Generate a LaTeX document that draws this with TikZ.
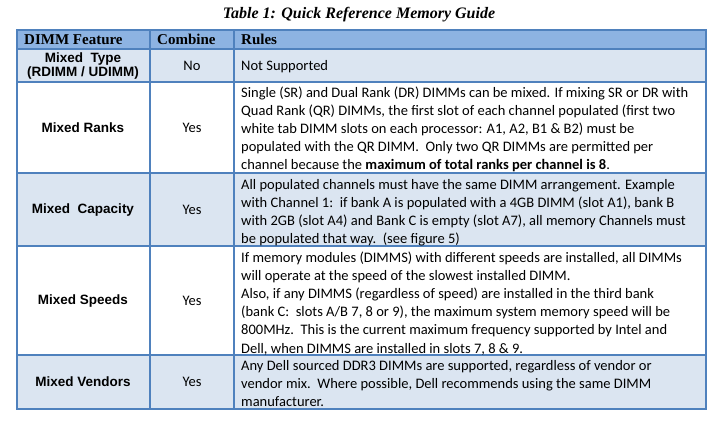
\documentclass[tikz,border=0pt]{standalone}
\usepackage{fontspec}
\setmainfont{Carlito}
\newfontfamily\hdfont{Liberation Serif}
\newfontfamily\lblfont{Liberation Sans}
\definecolor{hdblue}{RGB}{141,179,226}
\definecolor{rowblue}{RGB}{219,229,241}
\definecolor{gridblue}{RGB}{79,129,189}
\tikzset{
  rule/.style={anchor=base west, inner sep=0pt, font=\fontsize{14.5}{16}\selectfont},
  feat/.style={align=center, inner sep=0pt, font=\lblfont\bfseries\fontsize{13.5}{14}\selectfont},
  comb/.style={inner sep=0pt, font=\fontsize{14.5}{16}\selectfont},
  head/.style={anchor=base west, inner sep=0pt, font=\hdfont\bfseries\fontsize{15}{16}\selectfont}
}
\begin{document}
\begin{tikzpicture}[x=1pt,y=-1pt]
  \useasboundingbox (0,0) rectangle (713,430);
  % title
  \node[font=\hdfont\bfseries\itshape\fontsize{16}{18}\selectfont] (title) at (359,15) {Table 1: Quick Reference Memory Guide};
  % shaded rows
  \fill[hdblue] (17,30) rectangle (706,49);
  \fill[rowblue] (17,49) rectangle (706,82);
  \fill[rowblue] (17,173) rectangle (706,246);
  \fill[rowblue] (17,355) rectangle (706,409);
  % grid
  \draw[gridblue, line width=1.2pt] (17,30) rectangle (706,409);
  \foreach \y in {49,82,173,246,355}
    \draw[gridblue, line width=1.2pt] (17,\y) -- (706,\y);
  \foreach \x in {150,234}
    \draw[gridblue, line width=1.2pt] (\x,30) -- (\x,409);
  % header
  \node[head] (hfeat) at (24,45) {DIMM Feature};
  \node[head] (hcomb) at (157,45) {Combine};
  \node[head] (hrule) at (241,45) {Rules};
  % features and combine column
  \node[feat] (f1) at (83,66) {Mixed\ \ Type\\(RDIMM / UDIMM)};
  \node[feat] (f2) at (83,128) {Mixed Ranks};
  \node[feat] (f3) at (83,210) {Mixed\ \ Capacity};
  \node[feat] (f4) at (83,301) {Mixed Speeds};
  \node[feat] (f5) at (83,382) {Mixed Vendors};
  \foreach \y/\t [count=\i] in {66/No,128/Yes,210/Yes,301/Yes,382/Yes}
    \node[comb] (c\i) at (192,\y) {\t};
  % rules text
  \node[rule] (r1) at (241,71) {Not Supported};
  \foreach \t [count=\i] in {
    Single (SR) and Dual Rank (DR) DIMMs can be mixed. If mixing SR or DR with,
    Quad Rank (QR) DIMMs{,} the first slot of each channel populated (first two,
    white tab DIMM slots on each processor: A1{,} A2{,} B1 \& B2) must be,
    populated with the QR DIMM.\ \ Only two QR DIMMs are permitted per,
    channel because the \textbf{maximum of total ranks per channel is 8}.}
    \node[rule] (r2l\i) at (241,79+18.2*\i) {\t};
  \foreach \t [count=\i] in {
    All populated channels must have the same DIMM arrangement. Example,
    with Channel 1:\ \ if bank A is populated with a 4GB DIMM (slot A1){,} bank B,
    with 2GB (slot A4) and Bank C is empty (slot A7){,} all memory Channels must,
    be populated that way.\ \ (see figure 5)}
    \node[rule] (r3l\i) at (241,171+18.2*\i) {\t};
  \foreach \t [count=\i] in {
    If memory modules (DIMMS) with different speeds are installed{,} all DIMMs,
    will operate at the speed of the slowest installed DIMM.,
    Also{,} if any DIMMS (regardless of speed) are installed in the third bank,
    (bank C:\ \ slots A/B 7{,} 8 or 9){,} the maximum system memory speed will be,
    800MHz.\ \ This is the current maximum frequency supported by Intel and,
    Dell{,} when DIMMS are installed in slots 7{,} 8 \& 9.}
    \node[rule] (r4l\i) at (241,244+18.2*\i) {\t};
  \foreach \t [count=\i] in {
    Any Dell sourced DDR3 DIMMs are supported{,} regardless of vendor or,
    vendor mix.\ \ Where possible{,} Dell recommends using the same DIMM,
    manufacturer.}
    \node[rule] (r5l\i) at (241,352+18.2*\i) {\t};
\end{tikzpicture}
\end{document}
